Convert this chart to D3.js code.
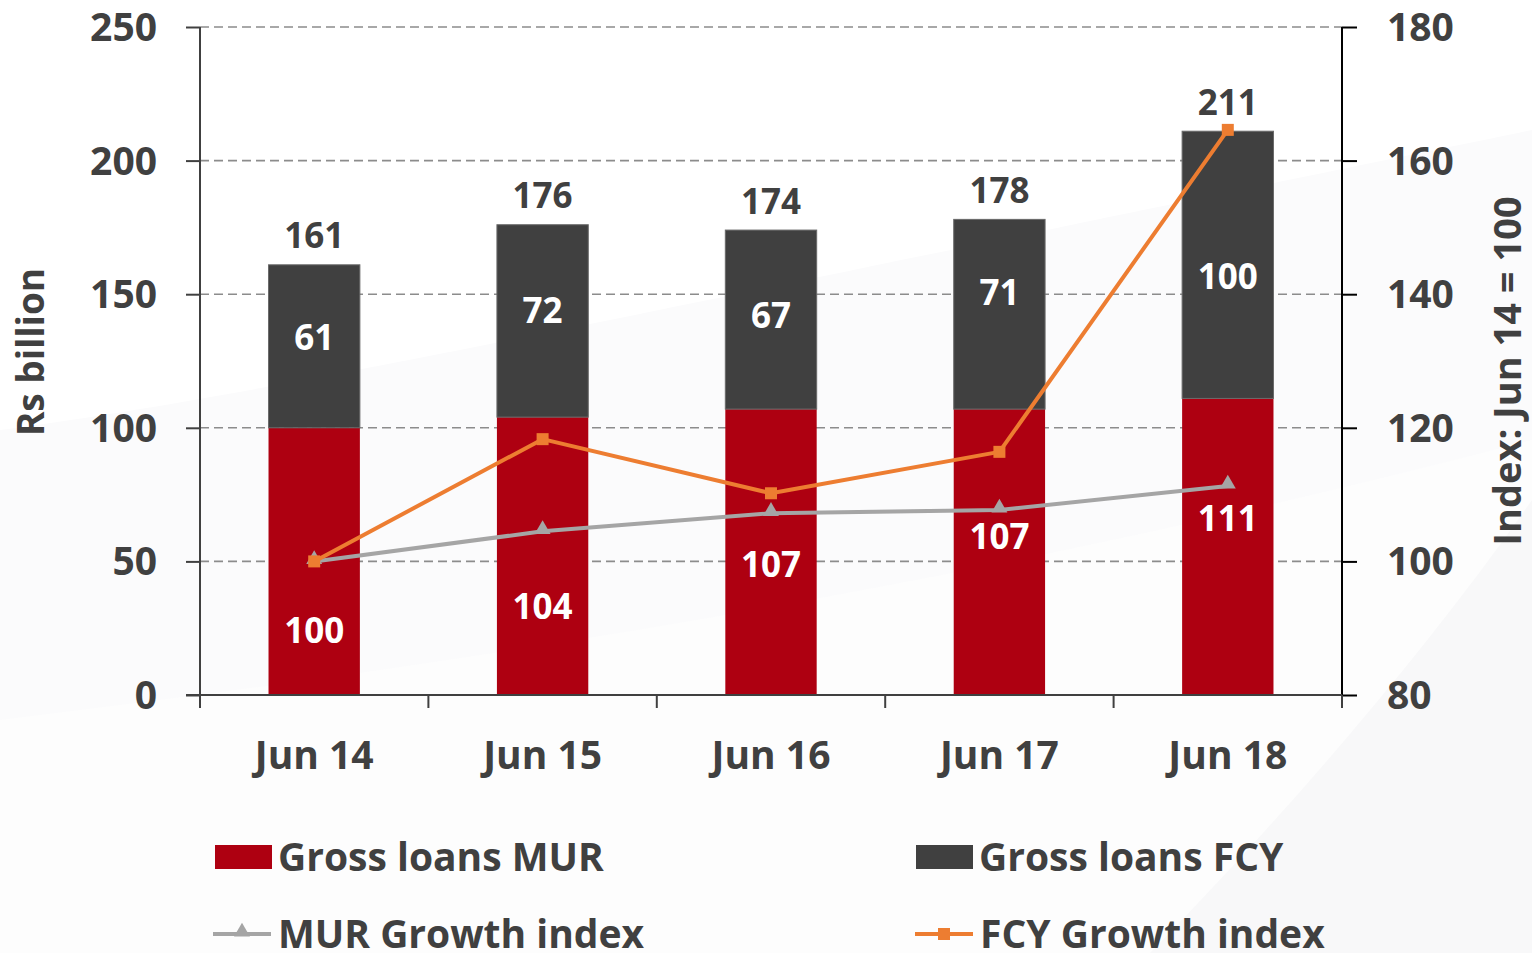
<!DOCTYPE html>
<html>
<head>
<meta charset="utf-8">
<script src="https://cdn.jsdelivr.net/npm/d3@7"></script>
<style>
  html, body { margin: 0; padding: 0; background: #ffffff; }
  svg { display: block; }
  text { font-family: "Open Sans", "Noto Sans", sans-serif; font-weight: 700; }
</style>
</head>
<body>
<svg id="chart" width="1532" height="953"></svg>
<script>
// ---- Data ----
const categories = ["Jun 14", "Jun 15", "Jun 16", "Jun 17", "Jun 18"];
const loansMUR = [100, 104, 107, 107, 111];
const loansFCY = [61, 72, 67, 71, 100];
const totals = [161, 176, 174, 178, 211];
const murIndex = [100, 104.5, 107.2, 107.7, 111.3];
const fcyIndex = [100, 118.3, 110.2, 116.4, 164.6];
const leftTicks = [0, 50, 100, 150, 200, 250];
const rightTicks = [80, 100, 120, 140, 160, 180];
// label anchor values (in Rs billion) as placed in the source chart
const murLabelAt = [24, 33, 49, 59.5, 66];
const fcyLabelAt = [134, 144, 142, 150.5, 156.5];
const seriesNames = ["Gross loans MUR", "Gross loans FCY", "MUR Growth index", "FCY Growth index"];

// ---- Layout ----
const svg = d3.select("#chart");
const W = 1532, H = 953;
const plot = { left: 200, right: 1342, top: 27, bottom: 695 };
const C = { mur: "#ae0011", fcy: "#404040", murLine: "#a5a5a5", fcyLine: "#ed7d31", text: "#404040", grid: "#8c8c8c" };

// very subtle background swooshes
svg.append("rect").attr("width", W).attr("height", H).attr("fill", "#ffffff");
const bg = svg.append("g");
bg.append("path").attr("d", "M0,430 C300,390 700,300 1532,130 L1532,953 L0,953 Z").attr("fill", "#fbfbfc");
bg.append("path").attr("d", "M0,720 C500,660 1000,580 1532,440 L1532,953 L0,953 Z").attr("fill", "#fdfdfd");
bg.append("path").attr("d", "M1150,953 C1280,820 1420,660 1532,500 L1532,953 Z").attr("fill", "#f8f8f9");

const x = d3.scaleBand().domain(categories).range([plot.left, plot.right]).paddingInner(0.6).paddingOuter(0.3);
const yL = d3.scaleLinear().domain([0, 250]).range([plot.bottom, plot.top]);
const yR = d3.scaleLinear().domain([80, 180]).range([plot.bottom, plot.top]);
const cx = c => x(c) + x.bandwidth() / 2;

// gridlines
svg.append("g").selectAll("line").data(leftTicks.filter(d => d > 0)).join("line")
  .attr("x1", plot.left).attr("x2", plot.right)
  .attr("y1", d => yL(d)).attr("y2", d => yL(d))
  .attr("stroke", C.grid).attr("stroke-width", 1.6).attr("stroke-dasharray", "9,5");

// bars
const bars = svg.append("g");
bars.selectAll("rect.mur").data(categories).join("rect").attr("class", "mur")
  .attr("x", c => x(c)).attr("width", x.bandwidth())
  .attr("y", (c, i) => yL(loansMUR[i])).attr("height", (c, i) => yL(0) - yL(loansMUR[i]))
  .attr("fill", C.mur);
bars.selectAll("rect.fcy").data(categories).join("rect").attr("class", "fcy")
  .attr("x", c => x(c)).attr("width", x.bandwidth())
  .attr("y", (c, i) => yL(loansMUR[i] + loansFCY[i])).attr("height", (c, i) => yL(loansMUR[i]) - yL(loansMUR[i] + loansFCY[i]))
  .attr("fill", C.fcy).attr("stroke", "#6a6a6a").attr("stroke-width", 1);

// axes
const leftAxis = d3.axisLeft(yL).tickValues(leftTicks).tickSize(14).tickFormat("");
const gL = svg.append("g").attr("transform", `translate(${plot.left},0)`).call(leftAxis);
gL.select(".domain").attr("stroke", C.text).attr("stroke-width", 2).attr("d", `M0,${plot.top}V${plot.bottom}`);
gL.selectAll(".tick line").attr("stroke", C.text).attr("stroke-width", 2);

const rightAxis = d3.axisRight(yR).tickValues(rightTicks).tickSize(15).tickFormat("");
const gR = svg.append("g").attr("transform", `translate(${plot.right},0)`).call(rightAxis);
gR.select(".domain").attr("stroke", "#000").attr("stroke-width", 2).attr("d", `M0,${plot.top}V${plot.bottom + 12}`);
gR.selectAll(".tick line").attr("stroke", "#000").attr("stroke-width", 2);

// bottom axis line + category boundary ticks
svg.append("line").attr("x1", plot.left - 14).attr("x2", plot.right).attr("y1", plot.bottom).attr("y2", plot.bottom)
  .attr("stroke", C.text).attr("stroke-width", 2);
const bounds = categories.map(c => x(c) - (x.step() - x.bandwidth()) / 2);
bounds.push(plot.right);
svg.append("g").selectAll("line").data(bounds).join("line")
  .attr("x1", d => d).attr("x2", d => d).attr("y1", plot.bottom).attr("y2", plot.bottom + 13)
  .attr("stroke", C.text).attr("stroke-width", 2);

// tick labels
svg.append("g").selectAll("text").data(leftTicks).join("text")
  .attr("x", 157).attr("y", d => yL(d)).attr("dy", "0.36em").attr("text-anchor", "end")
  .attr("font-size", 39).attr("fill", C.text).text(d => d);
svg.append("g").selectAll("text").data(rightTicks).join("text")
  .attr("x", 1387).attr("y", d => yR(d)).attr("dy", "0.36em").attr("text-anchor", "start")
  .attr("font-size", 39).attr("fill", C.text).text(d => d);
svg.append("g").selectAll("text").data(categories).join("text")
  .attr("x", c => cx(c)).attr("y", 769).attr("text-anchor", "middle")
  .attr("font-size", 39).attr("fill", C.text).text(c => c);

// axis titles
svg.append("text").attr("transform", `translate(44,352) rotate(-90)`).attr("text-anchor", "middle")
  .attr("font-size", 37).attr("fill", C.text).text("Rs billion");
svg.append("text").attr("transform", `translate(1521,371) rotate(-90)`).attr("text-anchor", "middle")
  .attr("font-size", 38).attr("fill", C.text).text("Index: Jun 14 = 100");

// lines
const lineGen = d3.line().x(d => d[0]).y(d => d[1]);
const murPts = categories.map((c, i) => [cx(c), yR(murIndex[i])]);
const fcyPts = categories.map((c, i) => [cx(c), yR(fcyIndex[i])]);
svg.append("path").attr("d", lineGen(murPts)).attr("fill", "none").attr("stroke", C.murLine).attr("stroke-width", 4).attr("stroke-linejoin", "round");
svg.append("path").attr("d", lineGen(fcyPts)).attr("fill", "none").attr("stroke", C.fcyLine).attr("stroke-width", 4).attr("stroke-linejoin", "round");
const tri = d3.symbol().type(d3.symbolTriangle).size(110);
svg.append("g").selectAll("path").data(murPts).join("path")
  .attr("transform", d => `translate(${d[0]},${d[1] - 2})`).attr("d", tri()).attr("fill", C.murLine);
svg.append("g").selectAll("rect").data(fcyPts).join("rect")
  .attr("x", d => d[0] - 6).attr("y", d => d[1] - 6).attr("width", 12).attr("height", 12).attr("fill", C.fcyLine);

// data labels
const lbl = svg.append("g").attr("font-size", 35).attr("text-anchor", "middle");
lbl.selectAll("text.tot").data(categories).join("text").attr("class", "tot")
  .attr("x", c => cx(c)).attr("y", (c, i) => yL(totals[i]) - 29).attr("dy", "0.36em")
  .attr("fill", C.text).text((c, i) => totals[i]);
lbl.selectAll("text.fcy").data(categories).join("text").attr("class", "fcy")
  .attr("x", c => cx(c)).attr("y", (c, i) => yL(fcyLabelAt[i])).attr("dy", "0.36em")
  .attr("fill", "#ffffff").text((c, i) => loansFCY[i]);
lbl.selectAll("text.mur").data(categories).join("text").attr("class", "mur")
  .attr("x", c => cx(c)).attr("y", (c, i) => yL(murLabelAt[i])).attr("dy", "0.36em")
  .attr("fill", "#ffffff").text((c, i) => loansMUR[i]);

// legend
const leg = svg.append("g").attr("font-size", 39).attr("fill", C.text);
const legItems = [
  { name: seriesNames[0], kind: "rect", color: C.mur, x: 215, y: 857 },
  { name: seriesNames[1], kind: "rect", color: C.fcy, x: 916, y: 857 },
  { name: seriesNames[2], kind: "tri", color: C.murLine, x: 213, y: 934 },
  { name: seriesNames[3], kind: "sq", color: C.fcyLine, x: 915, y: 934 }
];
legItems.forEach(it => {
  const g = leg.append("g");
  if (it.kind === "rect") {
    g.append("rect").attr("x", it.x).attr("y", it.y - 12).attr("width", 57).attr("height", 24).attr("fill", it.color);
  } else {
    g.append("line").attr("x1", it.x).attr("x2", it.x + 58).attr("y1", it.y).attr("y2", it.y)
      .attr("stroke", it.color).attr("stroke-width", 4);
    if (it.kind === "tri") {
      g.append("path").attr("transform", `translate(${it.x + 29},${it.y - 2})`).attr("d", tri()).attr("fill", it.color);
    } else {
      g.append("rect").attr("x", it.x + 23).attr("y", it.y - 6).attr("width", 12).attr("height", 12).attr("fill", it.color);
    }
  }
  g.append("text").attr("x", it.x + (it.kind === "rect" ? 63 : 65)).attr("y", it.y + 14).text(it.name);
});
</script>
</body>
</html>
